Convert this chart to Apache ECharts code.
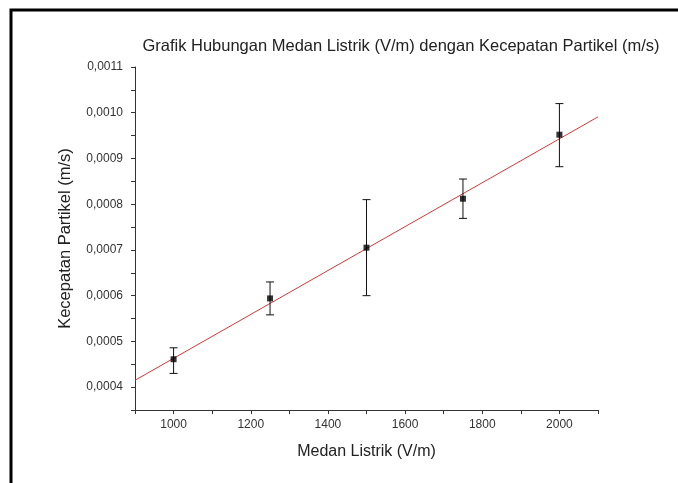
<!DOCTYPE html>
<html>
<head>
<meta charset="utf-8">
<script src="https://cdn.jsdelivr.net/npm/echarts@6/dist/echarts.min.js"></script>
<style>
    html, body { margin: 0; padding: 0; background: #fff; }
    #chart { width: 678px; height: 483px; }
</style>
</head>
<body>
<div id="chart"></div>
<script>
    // data
    const medan = [1000, 1250, 1500, 1750, 2000];
    const kecepatan = [0.000461, 0.000594, 0.000705, 0.000812, 0.000952];
    const errAtas = [0.000486, 0.00063, 0.00081, 0.000855, 0.00102];
    const errBawah = [0.00043, 0.000558, 0.0006, 0.000769, 0.000882];
    // linear fit end points
    const fitX = [900, 2100];
    const fitY = [0.000415, 0.000991];

    const titleText = 'Grafik Hubungan Medan Listrik (V/m) dengan Kecepatan Partikel (m/s)';

    const titik = medan.map((x, i) => [x, kecepatan[i]]);
    const galat = medan.map((x, i) => [x, errBawah[i], errAtas[i]]);
    const garis = fitX.map((x, i) => [x, fitY[i]]);

    const axisColor = '#333';
    const font = 'Liberation Sans, Arial, sans-serif';

    let chart = echarts.init(document.getElementById('chart'));

    let option = {
        backgroundColor: '#fff',
        animation: false,
        title: {
            text: titleText,
            left: 396,
            textAlign: 'center',
            top: 33,
            textStyle: { fontSize: 16.5, fontWeight: 'normal', color: '#222', fontFamily: font }
        },
        graphic: [{
            type: 'rect',
            shape: { x: 11, y: 10, width: 720, height: 520 },
            style: { fill: 'none', stroke: '#000', lineWidth: 3 },
            silent: true
        }],
        grid: { left: 135, right: 80, top: 67, bottom: 73 },
        xAxis: {
            type: 'value',
            min: 900,
            max: 2100,
            interval: 100,
            name: 'Medan Listrik (V/m)',
            nameLocation: 'middle',
            nameGap: 34,
            nameTextStyle: { fontSize: 16, color: '#222', fontFamily: font },
            axisLine: { lineStyle: { color: axisColor, width: 1 } },
            axisTick: { length: 4, lineStyle: { color: axisColor } },
            axisLabel: {
                fontSize: 12,
                color: '#333',
                fontFamily: font,
                margin: 9,
                formatter: v => (v % 200 === 0 ? String(v) : '')
            },
            splitLine: { show: false }
        },
        yAxis: {
            type: 'value',
            min: 0.00035,
            max: 0.0011,
            interval: 0.00005,
            name: 'Kecepatan Partikel (m/s)',
            nameLocation: 'middle',
            nameGap: 61,
            nameTextStyle: { fontSize: 16.5, color: '#222', fontFamily: font },
            axisLine: { show: true, lineStyle: { color: axisColor, width: 1 } },
            axisTick: { show: true, length: 4, lineStyle: { color: axisColor } },
            axisLabel: {
                fontSize: 12,
                color: '#333',
                fontFamily: font,
                margin: 12,
                formatter: v => (Math.round(v * 1e5) % 10 === 0 ? v.toFixed(4).replace('.', ',') : '')
            },
            splitLine: { show: false }
        },
        series: [
            {
                name: 'fit',
                type: 'line',
                data: garis,
                showSymbol: false,
                lineStyle: { color: '#d23a3a', width: 1 },
                z: 1
            },
            {
                name: 'galat',
                type: 'custom',
                data: galat,
                z: 2,
                renderItem: function (params, api) {
                    let x = api.value(0);
                    let atas = api.coord([x, api.value(2)]);
                    let bawah = api.coord([x, api.value(1)]);
                    let w = 4;
                    let st = { stroke: '#111', lineWidth: 1 };
                    return {
                        type: 'group',
                        children: [
                            { type: 'line', shape: { x1: atas[0], y1: atas[1], x2: bawah[0], y2: bawah[1] }, style: st },
                            { type: 'line', shape: { x1: atas[0] - w, y1: atas[1], x2: atas[0] + w, y2: atas[1] }, style: st },
                            { type: 'line', shape: { x1: bawah[0] - w, y1: bawah[1], x2: bawah[0] + w, y2: bawah[1] }, style: st }
                        ]
                    };
                }
            },
            {
                name: 'data',
                type: 'scatter',
                data: titik,
                symbol: 'rect',
                symbolSize: 6,
                itemStyle: { color: '#000' },
                z: 3
            }
        ]
    };

    chart.setOption(option);
</script>
</body>
</html>
